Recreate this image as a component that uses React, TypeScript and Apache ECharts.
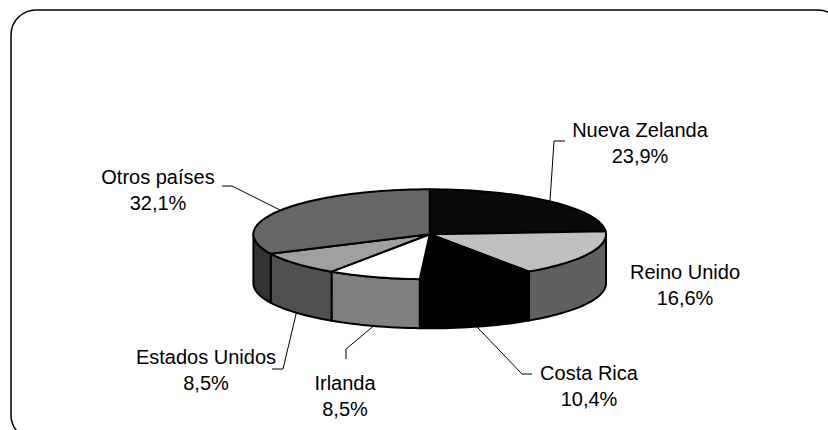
import React, { useEffect, useRef } from "react";
import * as echarts from "echarts";

// ---- data ----
const categories = ["Nueva Zelanda", "Reino Unido", "Costa Rica", "Irlanda", "Estados Unidos", "Otros países"];
const shares = [23.9, 16.6, 10.4, 8.5, 8.5, 32.1];

// ---- styles / layout ----
const topColors = ["#0a0a0a", "#c0c0c0", "#000000", "#ffffff", "#a0a0a0", "#666666"];
const sideColors = ["#050505", "#606060", "#000000", "#808080", "#505050", "#333333"];
const PIE = { cx: 429.7, cy: 234.3, rx: 176.3, ry: 45, depth: 49 };
const labelCenters: number[][] = [[640, 143], [685, 285], [589, 386], [345, 396], [206, 370], [158, 190]];
const leaderElbows: (number[][] | null)[] = [
  [[565, 141], [554, 141]],
  null,
  [[532, 374], [522, 374]],
  [[346, 359], [346, 349]],
  [[272, 369], [283, 369]],
  [[222, 186], [232, 186]],
];
const FONT = 'Arial, "Liberation Sans", sans-serif';

const fmt = (v: number) => v.toFixed(1).replace(".", ",") + "%";

export default function App() {
  const ref = useRef<HTMLDivElement>(null);
  useEffect(() => {
    if (!ref.current) return;
    const chart = echarts.init(ref.current, undefined, { renderer: "svg" });
    const total = shares.reduce((a, b) => a + b, 0);
    const cum: number[] = [];
    let acc = 0;
    shares.forEach((v) => { cum.push(acc); acc += v; });
    const deg = Math.PI / 180;
    const pt = (th: number, dy = 0) => [PIE.cx + PIE.rx * Math.cos(th * deg), PIE.cy - PIE.ry * Math.sin(th * deg) + dy];
    const arc = (a: number, b: number, dy = 0) => {
      const n = Math.max(2, Math.ceil(Math.abs(a - b) / 2));
      const pts: number[][] = [];
      for (let k = 0; k <= n; k++) pts.push(pt(a + ((b - a) * k) / n, dy));
      return pts;
    };

    const renderItem = (params: any, api: any) => {
      const i = params.dataIndex;
      const v = api.value(0);
      const a = 90 - (360 * cum[i]) / total;
      const b = a - (360 * v) / total;
      const children: any[] = [];
      // side wall (front half only)
      const hi = Math.min(a, 0);
      const lo = Math.max(b, -180);
      if (lo < hi) {
        const pts = arc(hi, lo).concat(arc(lo, hi, PIE.depth));
        children.push({
          type: "polygon",
          shape: { points: pts },
          style: { fill: sideColors[i], stroke: "#000", lineWidth: 2, lineJoin: "round" },
        });
      }
      // top face
      children.push({
        type: "polygon",
        shape: { points: [[PIE.cx, PIE.cy]].concat(arc(a, b)) },
        style: { fill: topColors[i], stroke: "#000", lineWidth: 2, lineJoin: "round" },
      });
      // leader line
      const mid = (a + b) / 2;
      const front = Math.sin(mid * deg) < 0;
      const anchor = pt(mid, front ? PIE.depth : 0);
      const el = leaderElbows[i];
      if (el) {
        children.push({
          type: "polyline",
          shape: { points: [el[0], el[1], anchor] },
          style: { stroke: "#000", lineWidth: 1, fill: null },
        });
      }
      // label
      children.push({
        type: "text",
        style: {
          text: categories[i] + "\n" + fmt(v),
          x: labelCenters[i][0],
          y: labelCenters[i][1],
          align: "center",
          verticalAlign: "middle",
          fontSize: 20,
          fontFamily: FONT,
          lineHeight: 26,
          fill: "#000",
        },
      });
      return { type: "group", children };
    };

    chart.setOption({
      animation: false,
      graphic: [
        {
          type: "rect",
          silent: true,
          shape: { x: 11, y: 10, width: 832, height: 430, r: 25 },
          style: { fill: "none", stroke: "#000", lineWidth: 1.5 },
        },
      ],
      series: [
        {
          type: "custom",
          coordinateSystem: "none",
          silent: true,
          data: shares.map((v) => [v]),
          renderItem,
        },
      ],
    });
    return () => chart.dispose();
  }, []);
  return (
    <div
      ref={ref}
      style={{ position: "fixed", left: 0, top: 0, width: 828, height: 430, background: "#fff" }}
    />
  );
}
